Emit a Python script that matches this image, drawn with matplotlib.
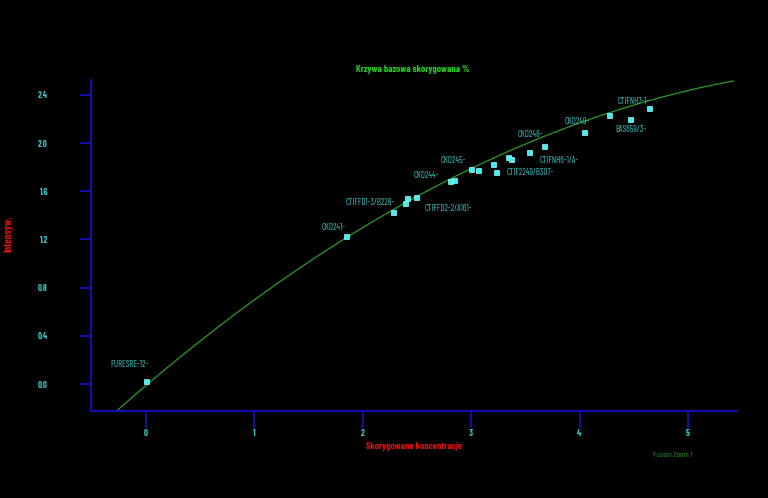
import numpy as np
import matplotlib
matplotlib.use("Agg")
import matplotlib.pyplot as plt

# --- dane kalibracyjne ---
conc = [0.003, 1.848, 2.281, 2.389, 2.405, 2.488, 2.804, 2.839, 2.995, 3.066,
        3.203, 3.233, 3.339, 3.367, 3.533, 3.672, 4.043, 4.271, 4.462, 4.640]
intens = [0.027, 1.228, 1.427, 1.502, 1.546, 1.549, 1.682, 1.693, 1.782, 1.776,
          1.828, 1.761, 1.884, 1.870, 1.923, 1.978, 2.091, 2.232, 2.199, 2.290]

# etykiety probek: (indeks punktu, tekst)
sample_idx = [0, 1, 2, 5, 6, 8, 11, 14, 15, 16, 18, 19]
sample_names = ['PURESRE-12', 'CKD241', 'CTIFFD1-3/B228', 'CTIFFD2-2/A161', 'CKD244',
                'CKD245', 'CTIF2249/B307', 'CTIFNH6-1/A', 'CKD248', 'CKD249',
                'BAS659/3', 'CTIFNH7-1']
# przesuniecia etykiet w pikselach (lewa krawedz tekstu wzgledem punktu)
label_dx = [-36, -25, -48, 9, -36, -30, 10, 11, -27, -20, -14, -31]
label_dy = [16, 9, 10, -11, 6, 9, -1, -8, 11, 11, -10, 7]

# wspolczynniki krzywej bazowej (a + b*x + c*x^2)
curve_coef = [-0.0123, 0.7659, -0.05527]
curve_x0, curve_x1 = -0.261, 5.418

x_ticks = [0, 1, 2, 3, 4, 5]
y_ticks = [0.0, 0.4, 0.8, 1.2, 1.6, 2.0, 2.4]

BG = 'black'
AXC = '#1010a8'
CYAN = '#3cc4c4'
PT = '#40f0f0'
FONT = ['Barlow Condensed', 'DejaVu Sans']

fig = plt.figure(figsize=(7.68, 4.98), dpi=100, facecolor=BG)
ax = fig.add_axes([91 / 768, 1 - 411 / 498, (737 - 91) / 768, (411 - 80) / 498])
ax.set_facecolor(BG)

xs = np.linspace(curve_x0, curve_x1, 300)
a, b, c = curve_coef
ax.plot(xs, a + b * xs + c * xs ** 2, color='#2a9a2a', lw=0.9, zorder=2)
ax.plot(conc, intens, ls='none', marker='s', ms=3.6, mfc=PT, mec='#a0ffff',
        mew=0.5, zorder=3)

for i, name, dx, dy in zip(sample_idx, sample_names, label_dx, label_dy):
    ax.annotate(name + '-', (conc[i], intens[i]), xytext=(dx, dy),
                textcoords='offset pixels', ha='left', va='center',
                fontsize=6.3, color=CYAN, family=FONT)

ax.set_xlim(-0.507, 5.452)
ax.set_ylim(-0.224, 2.523)
ax.set_xticks(x_ticks)
ax.set_xticklabels([str(t) for t in x_ticks])
ax.set_yticks(y_ticks)
ax.set_yticklabels([f'{t:.1f}' for t in y_ticks])

for s in ['top', 'right']:
    ax.spines[s].set_visible(False)
for s in ['left', 'bottom']:
    ax.spines[s].set_color(AXC)
    ax.spines[s].set_linewidth(1.6)
ax.tick_params(axis='x', colors=AXC, length=12, width=1.4, pad=1,
               labelcolor=CYAN, labelsize=6.5)
ax.tick_params(axis='y', colors=AXC, length=8, width=1.4, pad=23,
               labelcolor=CYAN, labelsize=6.5)
for lab in ax.get_xticklabels() + ax.get_yticklabels():
    lab.set_family(FONT)
    lab.set_fontweight('bold')

fig.text(413 / 768, 1 - 69 / 498, 'Krzywa bazowa skorygowana %', color='#22cc22',
         fontsize=7, fontweight='bold', ha='center', va='center', family=FONT)
fig.text(414 / 768, 1 - 446 / 498, 'Skorygowane koncentracje', color='#dd1010',
         fontsize=7, fontweight='bold', ha='center', va='center', family=FONT)
fig.text(8 / 768, 1 - 234 / 498, 'Intensyw.', color='#dd1010', rotation=90,
         fontsize=7.5, fontweight='bold', ha='center', va='center', family=FONT)
fig.text(673 / 768, 1 - 455 / 498, 'Fusion Zoom 1', color='#1e9a1e',
         fontsize=6, ha='center', va='center', family=FONT)

fig.savefig('out.png', dpi=100, facecolor=BG)
